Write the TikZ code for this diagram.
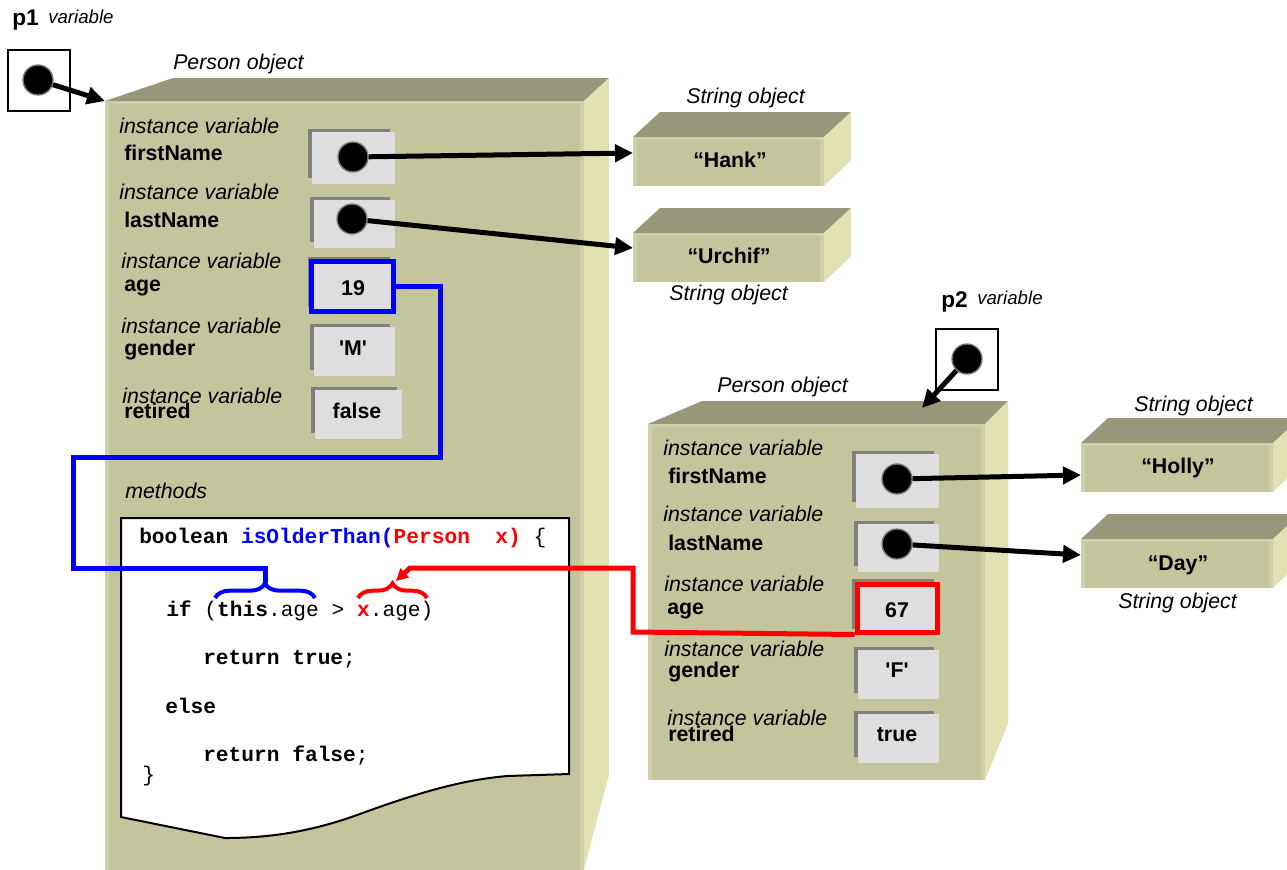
\documentclass[tikz,border=0pt]{standalone}
\usepackage{fontspec}
\setmainfont{Liberation Sans}
\newfontfamily\codefont{Liberation Mono}
\usetikzlibrary{arrows.meta,decorations.pathreplacing}

\definecolor{cubefront}{RGB}{196,196,157}
\definecolor{cubetop}{RGB}{151,151,121}
\definecolor{cubeside}{RGB}{226,225,180}
\definecolor{cubeedge}{RGB}{206,206,168}
\definecolor{slotfill}{RGB}{222,222,222}
\definecolor{slotshade}{RGB}{128,128,128}
\definecolor{dotring}{RGB}{120,120,120}
\definecolor{linkblue}{RGB}{0,0,255}
\definecolor{linkred}{RGB}{255,0,0}

% value slot: darker frame peeking out at top/left, light face on top
\newcommand\slotbox[4]{%
  \fill[slotshade] (#1,#2) rectangle ({#3-5},{#4-6});
  \fill[slotfill] ({#1+4},{#2+3}) rectangle (#3,#4);
}
% front face with a slightly lighter rim on left, top and right
\newcommand\frontface[4]{%
  \fill[cubefront] (#1,#2) rectangle (#3,#4);
  \draw[cubeedge, line width=2.5pt] ({#1+2},#4) -- ({#1+2},{#2+1.5}) -- ({#3-2},{#2+1.5}) -- ({#3-2},#4);
}
% small box-shaped string object: front x1,y1,x2,y2, depth 27 x 25
\newcommand\strobj[4]{%
  \fill[cubetop] (#1,#2) -- ({#1+27},{#2-25}) -- ({#3+27},{#2-25}) -- (#3,#2) -- cycle;
  \fill[cubeside] (#3,#2) -- ({#3+27},{#2-25}) -- ({#3+27},{#4-26}) -- (#3,#4) -- cycle;
  \frontface{#1}{#2}{#3}{#4}
}

\begin{document}
\begin{tikzpicture}[x=0.75pt,y=-0.75pt,
  lbl/.style={inner sep=0pt, anchor=base west, font=\fontsize{16}{19}\selectfont},
  ivar/.style={lbl, font=\fontsize{16}{19}\selectfont\itshape},
  fld/.style={lbl, font=\fontsize{16}{19}\selectfont\bfseries},
  val/.style={inner sep=0pt, anchor=base, font=\fontsize{16}{19}\selectfont\bfseries},
  code/.style={inner sep=0pt, anchor=base west, font=\codefont\fontsize{15.9}{18}\selectfont},
  refdot/.style={circle, fill=black, draw=dotring, line width=1pt, minimum size=22.5pt, inner sep=0pt},
  varbox/.style={draw=black, line width=1.5pt, fill=white, minimum width=46.5pt, minimum height=45.75pt, inner sep=0pt},
  ptr/.style={line width=3.75pt, -{Triangle[length=13.5pt,width=12.75pt]}},
  bluelink/.style={draw=linkblue, line width=3.75pt},
  redlink/.style={draw=linkred, line width=3.75pt, -{Triangle[length=9pt,width=9pt]}},
  ring/.style={line width=3.75pt, inner sep=0pt, minimum width=61.5pt, minimum height=37.5pt},
  bracepath/.style={decorate, decoration={brace, amplitude=11pt}, line width=3pt},
  paper/.style={draw=black, line width=1.5pt, fill=white}
]
\useasboundingbox (0,0) rectangle (1287,869);
\clip (0,0) rectangle (1287,869);

% ---------- first Person object ----------
\fill[cubetop] (105,101) -- (173,78) -- (609,78) -- (584,101) -- cycle;
\fill[cubeside] (584,101) -- (609,78) -- (609,775) -- (584,869) -- cycle;
\frontface{105}{101}{584}{880}
\node[ivar] (cap1) at (173,69) {Person object};

\node[ivar] (iv1a) at (119,133) {instance variable};
\node[fld]  (fn1)  at (124,160) {firstName};
\node[ivar] (iv1b) at (119,199) {instance variable};
\node[fld]  (ln1)  at (124,227) {lastName};
\node[ivar] (iv1c) at (121,268) {instance variable};
\node[fld]  (ag1)  at (124,291) {age};
\node[ivar] (iv1d) at (121,333) {instance variable};
\node[fld]  (gd1)  at (124,355) {gender};
\node[ivar] (iv1e) at (122,403) {instance variable};
\node[fld]  (rt1)  at (124,418) {retired};

\slotbox{308}{129}{395}{184}
\slotbox{310}{197}{395}{248}
\slotbox{308}{257}{395}{313}
\slotbox{310}{324}{395}{376}
\slotbox{311}{387}{402}{439}
\node[refdot] (p1first) at (353,157) {};
\node[refdot] (p1last) at (352,219) {};
\node[val] (v19) at (353,295) {19};
\node[val] (vM) at (353,355) {\textquotesingle M\textquotesingle};
\node[val] (vfalse) at (357,418) {false};
\node[ring, draw=linkblue] (p1age) at (352,286) {};

\node[ivar] (meth) at (125,498) {methods};
\draw[paper] (121,518) -- (569,518) -- (569,774) -- (507,776)
  .. controls (462,780) and (420,792) .. (357,815)
  .. controls (310,832) and (268,838) .. (225,838) -- (121,817) -- cycle;

\node[code] (c1) at (139,543) {\textbf{boolean }\textcolor{linkblue}{\textbf{isOlderThan(}}\textcolor{linkred}{\textbf{Person~~x)}} \{};
\node[code] (c2) at (166,616) {\textbf{if} (\textbf{this}.age > \textcolor{linkred}{\textbf{x}}.age)};
\node[code] (c3) at (203,664) {\textbf{return true};};
\node[code] (c4) at (165,713) {\textbf{else}};
\node[code] (c5) at (203,761) {\textbf{return false};};
\node[code] (c6) at (142,781) {\}};

% braces over the two operands
\draw[bracepath, linkblue] (215,598) -- (315,598);
\draw[bracepath, linkred] (358,598) -- (427,598);
\coordinate (thisTip) at (265,583);
\coordinate (xTip) at (396,581);

% ---------- String objects ----------
\strobj{633}{137}{824}{186}
\node[ivar] (capH) at (686,103) {String object};
\node[val] (hank) at (730,167) {“Hank”};
\strobj{633}{233}{824}{282}
\node[val] (urchif) at (729,263) {“Urchif”};
\node[ivar] (capU) at (669,300) {String object};
\strobj{1081}{443}{1273}{492}
\node[ivar] (capHo) at (1134,411) {String object};
\node[val] (holly) at (1178,473) {“Holly”};
\strobj{1081}{539}{1273}{588}
\node[val] (day) at (1178,570) {“Day”};
\node[ivar] (capD) at (1118,608) {String object};

\coordinate (hankIn) at (633,153);
\coordinate (urchifIn) at (633,248);
\coordinate (hollyIn) at (1081,475);
\coordinate (dayIn) at (1081,555);

% ---------- second Person object ----------
\fill[cubetop] (648,424) -- (702,401) -- (1008,401) -- (985,424) -- cycle;
\fill[cubeside] (985,424) -- (1008,401) -- (1008,724) -- (985,780) -- cycle;
\frontface{648}{424}{985}{780}
\node[ivar] (cap2) at (717,392) {Person object};

\node[ivar] (iv2a) at (663,455) {instance variable};
\node[fld]  (fn2)  at (668,483) {firstName};
\node[ivar] (iv2b) at (663,521) {instance variable};
\node[fld]  (ln2)  at (668,550) {lastName};
\node[ivar] (iv2c) at (664,591) {instance variable};
\node[fld]  (ag2)  at (667,614) {age};
\node[ivar] (iv2d) at (664,656) {instance variable};
\node[fld]  (gd2)  at (668,677) {gender};
\node[ivar] (iv2e) at (667,725) {instance variable};
\node[fld]  (rt2)  at (668,741) {retired};

\slotbox{852}{451}{939}{508}
\slotbox{854}{521}{939}{572}
\slotbox{852}{579}{939}{635}
\slotbox{854}{647}{939}{699}
\slotbox{854}{711}{939}{763}
\node[refdot] (p2first) at (897,479) {};
\node[refdot] (p2last) at (897,544) {};
\node[val] (v67) at (897,617) {67};
\node[val] (vF) at (897,677) {\textquotesingle F\textquotesingle};
\node[val] (vtrue) at (897,741) {true};
\node[ring, draw=linkred, minimum width=60pt, minimum height=36pt] (p2age) at (897,608) {};

% ---------- reference variables ----------
\node[lbl, font=\fontsize{17}{20}\selectfont\bfseries] (p1name) at (12,25) {p1};
\node[lbl, font=\fontsize{14}{16}\selectfont\itshape] (p1kind) at (48,23) {variable};
\node[varbox] (p1box) at (39,80.5) {};
\node[refdot] (p1ref) at (38,80) {};
\coordinate (p1obj) at (105,101);

\node[lbl, font=\fontsize{17}{20}\selectfont\bfseries] (p2name) at (941,307) {p2};
\node[lbl, font=\fontsize{14}{16}\selectfont\itshape] (p2kind) at (977,304) {variable};
\node[varbox] (p2box) at (967,359) {};
\node[refdot] (p2ref) at (967,359) {};
\coordinate (p2obj) at (922,408);

% ---------- connectors ----------
\draw[ptr] (p1ref) -- (p1obj);
\draw[ptr] (p2ref) -- (p2obj);
\draw[ptr] (p1first) -- (hankIn);
\draw[ptr] (p1last) -- (urchifIn);
\draw[ptr] (p2first) -- (hollyIn);
\draw[ptr] (p2last) -- (dayIn);

\draw[bluelink] (p1age.east) -- (440,286) -- (440,457) -- (73,457) -- (73,568) -- (265,568) -- (thisTip);
\draw[redlink] (p2age.south west) -- (633,632) -- (633,568) -- (410,568) -- (xTip);
\end{tikzpicture}
\end{document}
